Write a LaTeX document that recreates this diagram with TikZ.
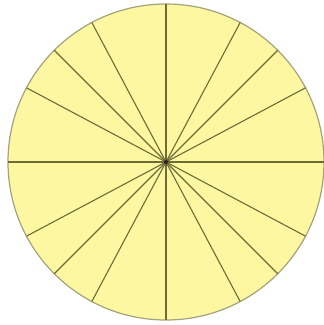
\documentclass[tikz,border=0pt]{standalone}
\usepackage{tikz}
\usetikzlibrary{calc}
\definecolor{piefill}{HTML}{FCF7A0}
\definecolor{pierim}{HTML}{A3A27A}
\definecolor{spoke}{HTML}{6E6C35}
\tikzset{
  disc/.style  = {fill=piefill, draw=pierim, line width=1.2pt},
  radius/.style = {draw=spoke, line width=1.1pt},
}

\begin{document}
\begin{tikzpicture}[x=1pt,y=1pt]
\useasboundingbox (0,0) rectangle (324,325);
% the disc
\coordinate (c) at (166,163);
\draw[disc] (c) circle (158);
% spokes, measured angles (not quite equal steps)
\foreach \a in {0,28,45,62,90,118,135,152,180,208,225,242,270,298,315,332}
  \draw[radius] (c) -- ($(c)+(\a:158)$);
% dark spot where the spokes meet
\fill[black!85] (c) circle (2);
\end{tikzpicture}
\end{document}
